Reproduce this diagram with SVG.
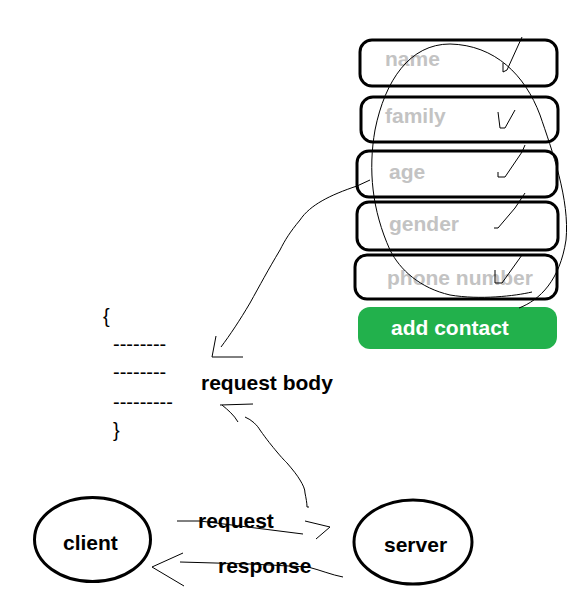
<svg xmlns="http://www.w3.org/2000/svg" width="574" height="602" viewBox="0 0 574 602">
<style>
.field{fill:#ffffff;stroke:#000000;stroke-width:3}
.lbl{font-family:"Liberation Sans",Arial,sans-serif;font-weight:bold;font-size:21px;fill:#c3c3c3}
.txt{font-family:"Liberation Sans",Arial,sans-serif;font-weight:bold;font-size:21px;fill:#000000}
.plain{font-family:"Liberation Sans",Arial,sans-serif;font-size:20px;fill:#000000}
.node{fill:#ffffff;stroke:#000000;stroke-width:3}
.pen{fill:none;stroke:#000000;stroke-width:1}
</style>
<rect width="574" height="602" fill="#ffffff"/>
<g id="field-name"><rect class="field" x="360" y="40" width="197" height="46" rx="12"/><text class="lbl" x="385" y="66">name</text></g>
<g id="field-family"><rect class="field" x="361" y="97" width="197" height="45" rx="12"/><text class="lbl" x="385" y="123">family</text></g>
<g id="field-age"><rect class="field" x="357" y="151" width="200" height="46" rx="12"/><text class="lbl" x="389" y="179">age</text></g>
<g id="field-gender"><rect class="field" x="357" y="202" width="201" height="48" rx="12"/><text class="lbl" x="389" y="231">gender</text></g>
<g id="field-phone"><rect class="field" x="355" y="255" width="202" height="44" rx="12"/><text class="lbl" x="387" y="285">phone number</text></g>
<g id="add-contact"><rect x="358" y="307" width="199" height="42" rx="12" fill="#22b14c"/><text class="txt" x="391" y="335" fill="#ffffff" style="fill:#ffffff">add contact</text></g>
<g id="request-body">
<text class="plain" x="103" y="323">{</text>
<text class="plain" x="113" y="351">--------</text>
<text class="plain" x="113" y="379">--------</text>
<text class="plain" x="113" y="409">---------</text>
<text class="plain" x="113" y="437">}</text>
<text class="txt" x="201" y="390">request body</text>
</g>
<g id="client"><ellipse class="node" cx="92.5" cy="539.5" rx="58" ry="42"/><text class="txt" x="63" y="550">client</text></g>
<g id="server"><ellipse class="node" cx="413" cy="542" rx="59" ry="42"/><text class="txt" x="384" y="552">server</text></g>
<g id="connectors">
<path class="pen" d="M519,308 C540,300 560,280 566,240 C570,200 552,150 540,115 C525,75 495,45 450,44 C410,44 385,80 375,130 C368,170 372,210 390,250 C400,270 420,288 450,295 C480,300 515,296 532,292"/>
<path class="pen" d="M503,63 L503,72 L507,70 L522,37"/>
<path class="pen" d="M498,112 L500,128 L505,128 L515,110"/>
<path class="pen" d="M498,172 L498,177 L505,177 L522,152 L525,145"/>
<path class="pen" d="M494,228 L498,228 L515,208 L525,193"/>
<path class="pen" d="M495,270 L495,283 L502,283 L522,255"/>
<path class="pen" d="M370,180 L357,186 C330,195 310,205 300,220 C290,232 285,240 280,250 C268,270 260,285 250,303 C240,320 230,335 221,347"/>
<path class="pen" d="M216,336 L212,357 L243,357"/>
<path class="pen" d="M220,405 L253,404 M222,405 C228,410 234,415 238,422"/>
<path class="pen" d="M245,417 C252,420 257,425 260,430 C267,440 272,446 277,452 C282,458 285,461 287,463 C293,470 297,475 300,480 C303,485 305,489 305,493 C306,498 307,503 307,507 L309,507"/>
<path class="pen" d="M177,521 L200,521 L303,534"/>
<path class="pen" d="M305,521 L330,527 L316,539"/>
<path class="pen" d="M180,562 L250,564 L308,567 C320,570 332,575 343,577"/>
<path class="pen" d="M183,553 L152,567 L184,586"/>
</g>
<g id="labels">
<text class="txt" x="198" y="528">request</text>
<text class="txt" x="218" y="573">response</text>
</g>
</svg>
